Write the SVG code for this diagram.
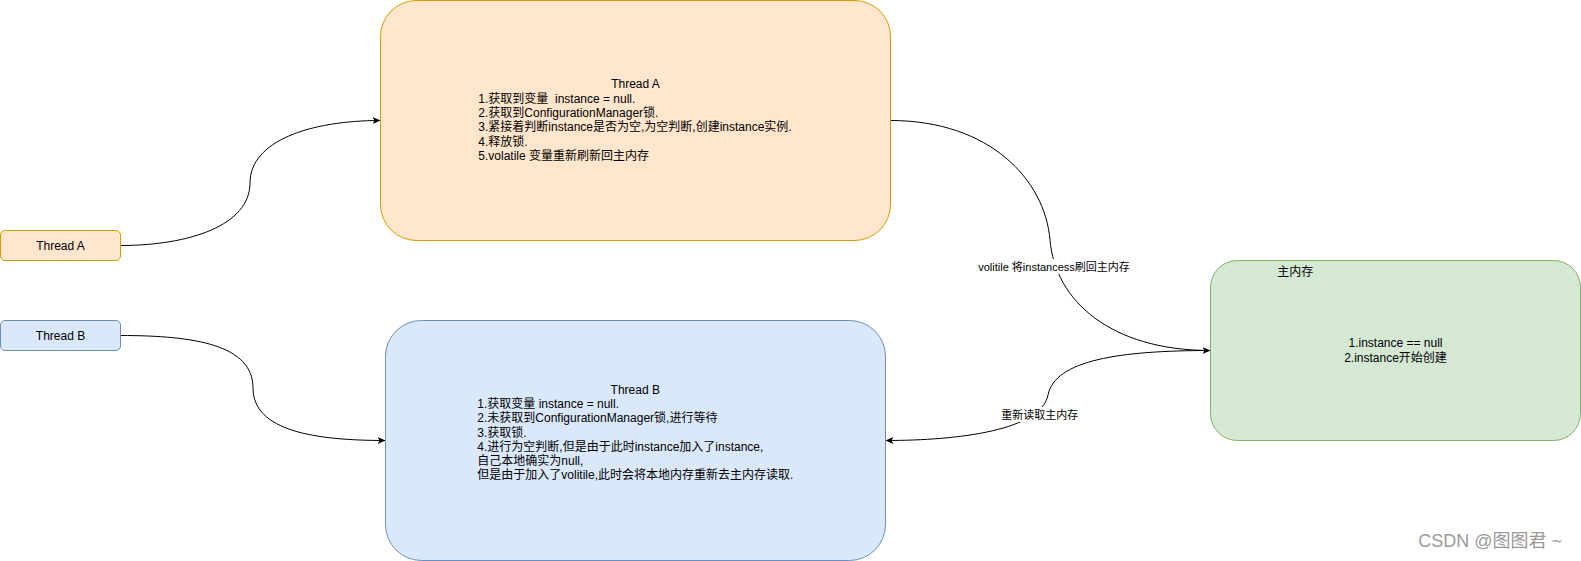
<svg xmlns="http://www.w3.org/2000/svg" width="1581" height="561" viewBox="0 0 1581 561">
<style>
text{font-family:"Liberation Sans","Noto Sans CJK SC",sans-serif;font-size:12px;fill:#000}
.lbl{font-size:11px}
.mid{text-anchor:middle}
.edge{fill:none;stroke:#000;stroke-width:1}
.a{fill:#ffe6cc;stroke:#d79b00}
.b{fill:#dae8fc;stroke:#6c8ebf}
.m{fill:#d5e8d4;stroke:#82b366}
.wm{font-size:18px;fill:#9a9a9a}
</style>
<defs>
<marker id="arr" viewBox="0 0 8 8" refX="8" refY="4" markerWidth="8" markerHeight="8" markerUnits="userSpaceOnUse" orient="auto">
<path d="M0,0.5 L8,4 L0,7.5 L2,4 Z" fill="#000"/>
</marker>
</defs>
<rect width="1581" height="561" fill="#fff"/>
<g id="connectors">
<path class="edge" marker-end="url(#arr)" d="M120.5 245.5 C190 245.5 250 225 250 183 C250 141 310 120.5 380.5 120.5"/>
<path class="edge" marker-end="url(#arr)" d="M120.5 335.5 C195 335.5 253 345 253 388 C253 431 315 440.5 385.5 440.5"/>
<path class="edge" marker-end="url(#arr)" d="M890.5 120.5 C990 120.5 1045 180 1050 240 C1055 300 1110 350.5 1210.5 350.5"/>
<path class="edge" marker-end="url(#arr)" d="M1210.5 350.5 C1120 350.5 1055 360 1048 395 C1041 430 960 440.5 885.5 440.5"/>
<rect x="977" y="259" width="154" height="15" fill="#fff"/>
<text class="lbl mid" x="1054" y="270.5">volitile 将instancess刷回主内存</text>
<rect x="1000" y="407" width="80" height="15" fill="#fff"/>
<text class="lbl mid" x="1039.7" y="419">重新读取主内存</text>
</g>
<g id="threadA-small">
<rect class="a" x="0.5" y="230.5" width="120" height="30" rx="4.5"/>
<text class="mid" x="60.5" y="249.5">Thread A</text>
</g>
<g id="threadB-small">
<rect class="b" x="0.5" y="320.5" width="120" height="30" rx="4.5"/>
<text class="mid" x="60.5" y="339.5">Thread B</text>
</g>
<g id="threadA">
<rect class="a" x="380.5" y="0.5" width="510" height="240" rx="36"/>
<text class="mid" x="635.5" y="88.3">Thread A</text>
<text x="478.3" y="102.6" xml:space="preserve">1.获取到变量  instance = null.</text>
<text x="478.3" y="116.9">2.获取到ConfigurationManager锁.</text>
<text x="478.3" y="131.2">3.紧接着判断instance是否为空,为空判断,创建instance实例.</text>
<text x="478.3" y="145.5">4.释放锁.</text>
<text x="478.3" y="159.8">5.volatile 变量重新刷新回主内存</text>
</g>
<g id="threadB">
<rect class="b" x="385.5" y="320.5" width="500" height="240" rx="36"/>
<text class="mid" x="635.3" y="394">Thread B</text>
<text x="477.3" y="408.2">1.获取变量 instance = null.</text>
<text x="477.3" y="422.4">2.未获取到ConfigurationManager锁,进行等待</text>
<text x="477.3" y="436.6">3.获取锁.</text>
<text x="477.3" y="450.8">4.进行为空判断,但是由于此时instance加入了instance,</text>
<text x="477.3" y="465">自己本地确实为null,</text>
<text x="477.3" y="479.2">但是由于加入了volitile,此时会将本地内存重新去主内存读取.</text>
</g>
<g id="main-memory">
<rect class="m" x="1210.5" y="260.5" width="370" height="180" rx="27"/>
<text class="mid" x="1295.3" y="275.5">主内存</text>
<text class="mid" x="1395.5" y="347.3">1.instance == null</text>
<text class="mid" x="1395.5" y="361.6">2.instance开始创建</text>
</g>
<text class="wm" x="1418.3" y="547">CSDN @图图君 ~</text>
</svg>
